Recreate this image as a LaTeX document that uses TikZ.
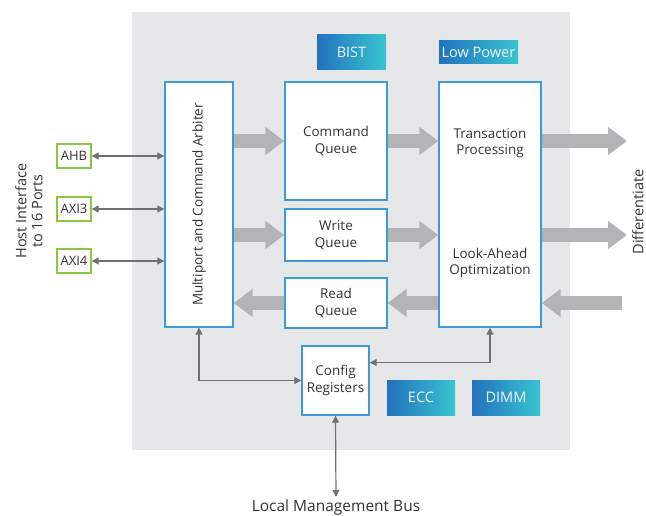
\documentclass[tikz,border=0pt]{standalone}
\usepackage{fontspec}
\setmainfont{Open Sans}
\usetikzlibrary{arrows.meta,calc}
\definecolor{bggray}{HTML}{E6E7E9}
\definecolor{boxblue}{HTML}{3B9BD3}
\definecolor{fatgray}{HTML}{B3B4B6}
\definecolor{linkgray}{HTML}{707072}
\definecolor{portgreen}{HTML}{8DC63F}
\definecolor{gradl}{HTML}{2372BE}
\definecolor{gradr}{HTML}{38C4D0}
\definecolor{txt}{HTML}{333333}
\tikzset{
  block/.style={draw=boxblue, fill=white, line width=1.4pt, inner sep=0pt, align=center, text=txt},
  port/.style={draw=portgreen, fill=white, line width=1.4pt, inner sep=0pt, minimum width=34pt, minimum height=24pt, text=txt, font=\fontsize{13}{15}\selectfont},
  feature/.style={shading=axis, left color=gradl, right color=gradr, shading angle=90, inner sep=0pt, text=white!92!cyan, font=\fontsize{14.5}{17}\selectfont},
  fat/.style={draw=fatgray, line width=14pt, -{Triangle[width=27pt,length=19pt]}},
  link/.style={draw=linkgray, line width=1.2pt, {Triangle[width=7pt,length=7pt]}-{Triangle[width=7pt,length=7pt]}},
}
\begin{document}
\begin{tikzpicture}[x=1pt,y=-1pt,font=\fontsize{13.5}{16.5}\selectfont]
\useasboundingbox (0,0) rectangle (646,516);
\fill[bggray] (132,12) rectangle (570,450);

% main blocks
\node[block, minimum width=68pt, minimum height=245pt] (arbiter) at (199,204.5) {};
\node[rotate=90, text=txt] at (arbiter.center) {Multiport and Command Arbiter};
\node[block, minimum width=102pt, minimum height=118pt] (cmdq) at (336,141) {Command\\Queue};
\node[block, minimum width=102pt, minimum height=52pt] (wrq) at (336,235) {Write\\Queue};
\node[block, minimum width=102pt, minimum height=50pt] (rdq) at (336,303) {Read\\Queue};
\node[block, minimum width=102pt, minimum height=245pt] (trans) at (490,204.5) {};
\node[align=center, text=txt] at (490,143) {Transaction\\Processing};
\node[align=center, text=txt] at (490,263) {Look-Ahead\\Optimization};
\node[block, minimum width=67pt, minimum height=69pt] (cfg) at (335.5,380.5) {Config\\Registers};

% feature tags
\node[feature, minimum width=69pt, minimum height=35pt] (bist) at (351.5,52.5) {BIST};
\node[feature, minimum width=79pt, minimum height=23pt] (lowpw) at (478.5,52.5) {Low Power};
\node[feature, minimum width=68pt, minimum height=35pt] (ecc) at (421,397.5) {ECC};
\node[feature, minimum width=68pt, minimum height=35pt] (dimm) at (506,397.5) {DIMM};

% host ports
\node[port] (ahb) at (74,156) {AHB};
\node[port] (axithree) at (74,209) {AXI3};
\node[port] (axifour) at (74,261) {AXI4};
\draw[link] (ahb.east) -- (arbiter.west |- ahb);
\draw[link] (axithree.east) -- (arbiter.west |- axithree);
\draw[link] (axifour.east) -- (arbiter.west |- axifour);

% data paths
\coordinate (outcmd) at (627,141);
\coordinate (outwr) at (627,235);
\coordinate (inrd) at (622,303);
\draw[fat] (arbiter.east |- cmdq) -- (cmdq.west);
\draw[fat] (cmdq.east) -- (trans.west |- cmdq);
\draw[fat] (trans.east |- cmdq) -- (outcmd);
\draw[fat] (arbiter.east |- wrq) -- (wrq.west);
\draw[fat] (wrq.east) -- (trans.west |- wrq);
\draw[fat] (trans.east |- wrq) -- (outwr);
\draw[fat] (rdq.west) -- (arbiter.east |- rdq);
\draw[fat] (trans.west |- rdq) -- (rdq.east);
\draw[fat] (inrd) -- (trans.east |- rdq);

% config links
\node[text=txt, font=\fontsize{15.5}{18}\selectfont] (bus) at (336,507) {Local Management Bus};
\draw[link] (arbiter.south) |- (cfg.west);
\draw[link] (trans.south) |- ([yshift=18pt]cfg.east);
\draw[link] (cfg.south) -- (336,497);

% side labels
\node[rotate=90, align=center, text=txt, font=\fontsize{14.5}{16}\selectfont] (host) at (29,211) {Host Interface\\to 16 Ports};
\node[rotate=90, text=txt, font=\fontsize{14.5}{17}\selectfont] (diff) at (638,212) {Differentiate};
\end{tikzpicture}
\end{document}
